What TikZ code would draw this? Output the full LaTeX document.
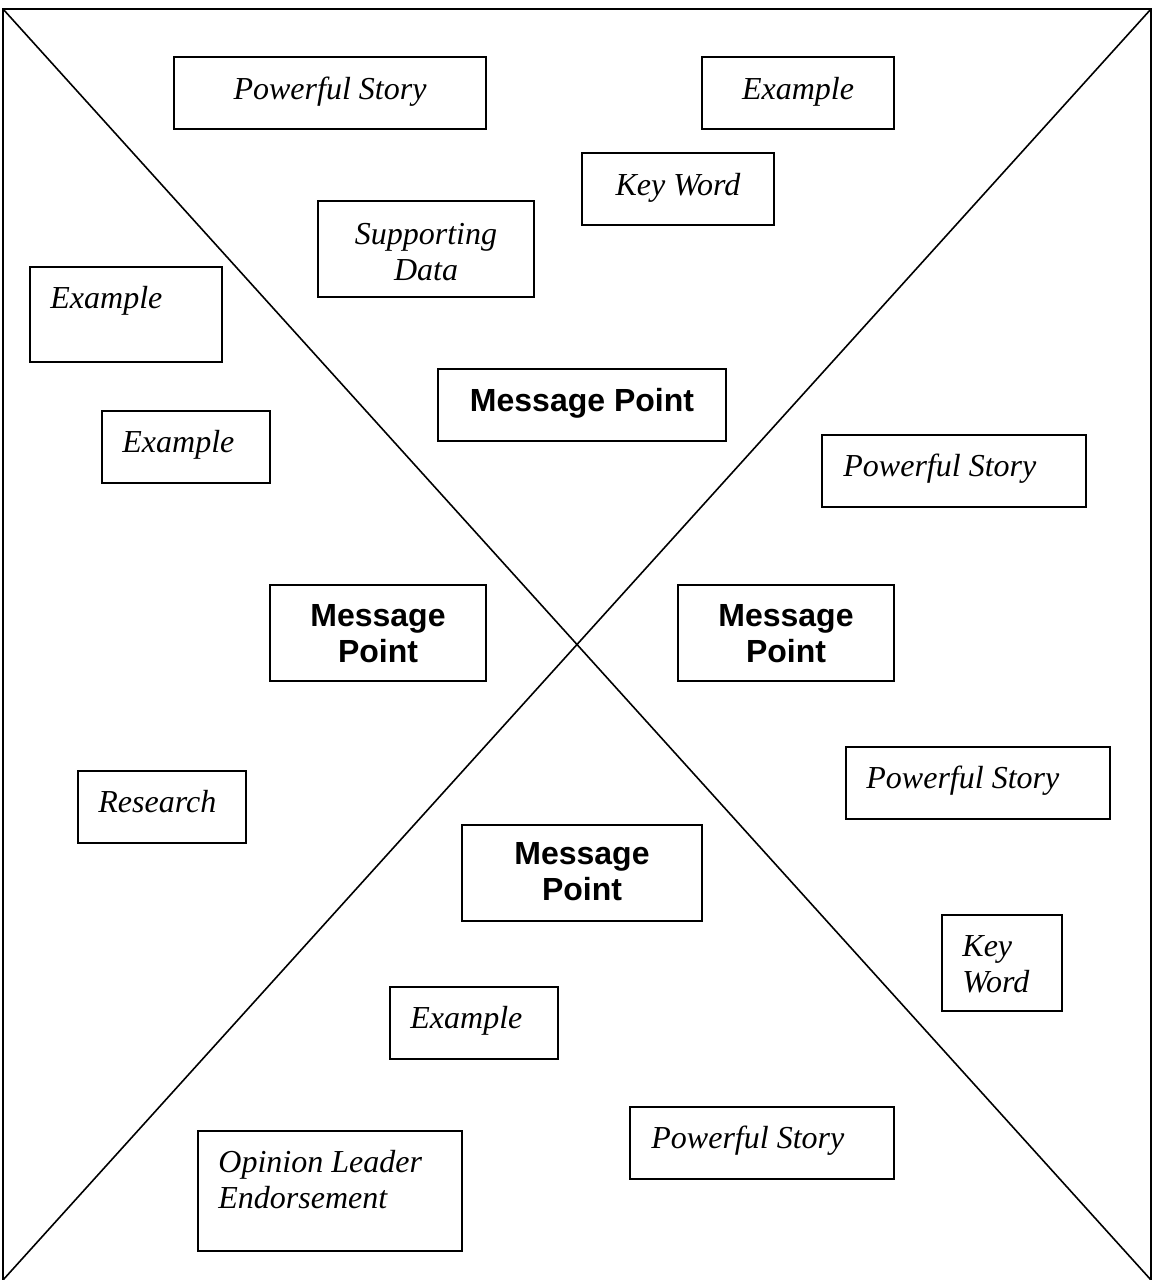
\documentclass[tikz,border=0pt]{standalone}
\usepackage{fontspec}
\setmainfont{Liberation Serif}
\setsansfont{Liberation Sans}
\usetikzlibrary{fit}
\tikzset{
  box/.style={draw, line width=0.9pt, inner sep=0pt},
  frameline/.style={line width=0.8pt},
  it/.style={font=\fontsize{16}{18}\selectfont\itshape, inner sep=0pt},
  mp/.style={font=\fontsize{16}{18}\selectfont\sffamily\bfseries, inner sep=0pt, align=center},
}
\begin{document}
\begin{tikzpicture}[x=0.5pt, y=-0.5pt]
\useasboundingbox (0,0) rectangle (1153,1280);
% frame and diagonals
\coordinate (tl) at (3,9);
\coordinate (tr) at (1151,9);
\coordinate (bl) at (3,1280);
\coordinate (br) at (1151,1280);
\draw[frameline] (bl) -- (tl) -- (tr) -- (br);
\draw[frameline] (tl) -- (br);
\draw[frameline] (tr) -- (bl);

% boxes (multi-line texts are placed by the baseline of their last line)
\node[box, fit={(174,57) (486,129)}] (ps1) {};
\node[it, anchor=base] (ps1t) at (330,99) {Powerful Story};

\node[box, fit={(702,57) (894,129)}] (ex1) {};
\node[it, anchor=base] (ex1t) at (798,99) {Example};

\node[box, fit={(582,153) (774,225)}] (kw1) {};
\node[it, anchor=base] (kw1t) at (678,195) {Key Word};

\node[box, fit={(318,201) (534,297)}] (sd) {};
\node[it, anchor=base, align=center] (sdt) at (426,280) {Supporting\\Data};

\node[box, fit={(30,267) (222,362)}] (ex2) {};
\node[it, anchor=base west] (ex2t) at (50,308) {Example};

\node[box, fit={(102,411) (270,483)}] (ex3) {};
\node[it, anchor=base west] (ex3t) at (122,452) {Example};

\node[box, fit={(438,369) (726,441)}] (mp1) {};
\node[mp, anchor=base] (mp1t) at (582,411) {Message Point};

\node[box, fit={(822,435) (1086,507)}] (ps2) {};
\node[it, anchor=base west] (ps2t) at (843,476) {Powerful Story};

\node[box, fit={(270,585) (486,681)}] (mp2) {};
\node[mp, anchor=base] (mp2t) at (378,662) {Message\\Point};

\node[box, fit={(678,585) (894,681)}] (mp3) {};
\node[mp, anchor=base] (mp3t) at (786,662) {Message\\Point};

\node[box, fit={(78,771) (246,843)}] (rs) {};
\node[it, anchor=base west] (rst) at (98,812) {Research};

\node[box, fit={(846,747) (1110,819)}] (ps3) {};
\node[it, anchor=base west] (ps3t) at (866,788) {Powerful Story};

\node[box, fit={(462,825) (702,921)}] (mp4) {};
\node[mp, anchor=base] (mp4t) at (582,900) {Message\\Point};

\node[box, fit={(942,915) (1062,1011)}] (kw2) {};
\node[it, anchor=base west, align=left] (kw2t) at (962,992) {Key\\Word};

\node[box, fit={(390,987) (558,1059)}] (ex4) {};
\node[it, anchor=base west] (ex4t) at (410,1028) {Example};

\node[box, fit={(630,1107) (894,1179)}] (ps4) {};
\node[it, anchor=base west] (ps4t) at (651,1148) {Powerful Story};

\node[box, fit={(198,1131) (462,1251)}] (ole) {};
\node[it, anchor=base west, align=left] (olet) at (218,1208) {Opinion Leader\\Endorsement};
\end{tikzpicture}
\end{document}
